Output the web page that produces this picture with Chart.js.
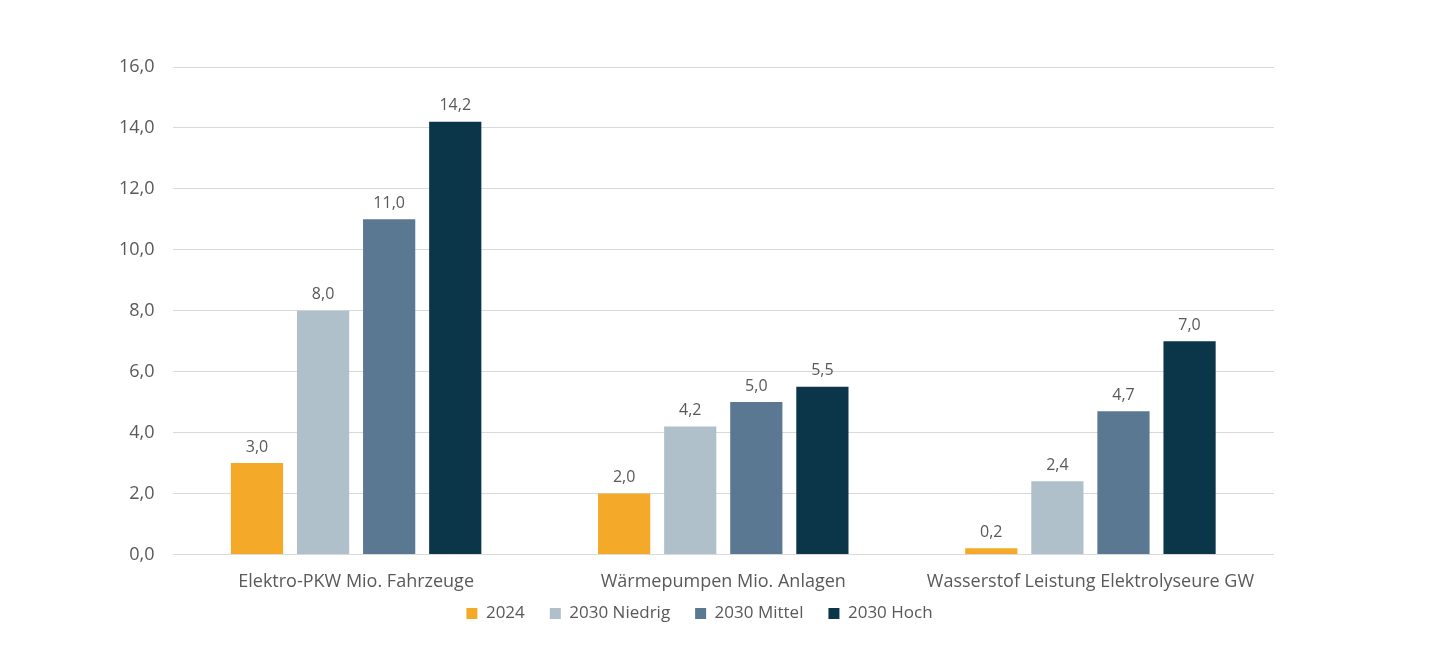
<!DOCTYPE html>
<html>
<head>
<meta charset="utf-8">
<script src="https://cdn.jsdelivr.net/npm/chart.js@4"></script>
<style>
    html, body { margin: 0; padding: 0; background: #fff; }
    #wrap { width: 1440px; height: 661px; }
</style>
</head>
<body>
<div id="wrap"><canvas id="chart"></canvas></div>
<script>
const categories = ['Elektro-PKW Mio. Fahrzeuge', 'Wärmepumpen Mio. Anlagen', 'Wasserstof Leistung Elektrolyseure GW'];
const seriesNames = ['2024', '2030 Niedrig', '2030 Mittel', '2030 Hoch'];
const values2024 = [3.0, 2.0, 0.2];
const valuesNiedrig = [8.0, 4.2, 2.4];
const valuesMittel = [11.0, 5.0, 4.7];
const valuesHoch = [14.2, 5.5, 7.0];
const yTicks = [0, 2, 4, 6, 8, 10, 12, 14, 16];

const colors = ['#F5A928', '#AFC0CA', '#5B7892', '#0B3549'];
const textColor = '#595959';
const fontFamily = '"Open Sans", "Noto Sans", sans-serif';

// legend sits closer to the axis labels than Chart.js would place it
const legendTrim = 23;
const legendShiftY = 22;
const legendShiftX = 12;

function fmt(v) {
    return v.toFixed(1).replace('.', ',');
}

// draws the value above each bar (no datalabels plugin available offline)
// and nudges the legend into place
const valueLabels = {
    id: 'valueLabels',
    afterInit(chart) {
        const legend = chart.legend;
        if (!legend) return;
        const origFit = legend.fit;
        const origDraw = legend.draw;
        legend.fit = function() {
            origFit.apply(this, arguments);
            this.height -= legendTrim;
        };
        legend.draw = function() {
            this.top -= legendShiftY;
            this.left += legendShiftX;
            this.right += legendShiftX;
            origDraw.apply(this, arguments);
            this.top += legendShiftY;
            this.left -= legendShiftX;
            this.right -= legendShiftX;
        };
    },
    afterDatasetsDraw(chart) {
        const ctx = chart.ctx;
        ctx.save();
        ctx.fillStyle = textColor;
        ctx.font = '16px ' + fontFamily;
        ctx.textAlign = 'center';
        ctx.textBaseline = 'bottom';
        chart.data.datasets.forEach((ds, i) => {
            chart.getDatasetMeta(i).data.forEach((bar, j) => {
                ctx.fillText(fmt(ds.data[j]), bar.x, bar.y - 8);
            });
        });
        ctx.restore();
    }
};

document.addEventListener('DOMContentLoaded', function() {
    const ctx = document.getElementById('chart').getContext('2d');
    const allSeries = [values2024, valuesNiedrig, valuesMittel, valuesHoch];
    new Chart(ctx, {
        type: 'bar',
        data: {
            labels: categories,
            datasets: allSeries.map((data, i) => ({
                label: seriesNames[i],
                data: data,
                backgroundColor: colors[i],
                borderWidth: 0
            }))
        },
        options: {
            responsive: true,
            maintainAspectRatio: false,
            animation: false,
            datasets: {
                bar: { categoryPercentage: 0.72, barPercentage: 0.79 }
            },
            layout: {
                padding: { left: 101, right: 166, top: 67, bottom: 30 }
            },
            scales: {
                x: {
                    grid: { display: false },
                    border: { display: false },
                    ticks: {
                        color: textColor,
                        font: { family: fontFamily, size: 18 },
                        padding: 9
                    }
                },
                y: {
                    min: 0,
                    max: 16,
                    afterBuildTicks: axis => {
                        axis.ticks = yTicks.map(v => ({ value: v }));
                    },
                    grid: { color: '#D9D9D9', drawTicks: false, lineWidth: 1 },
                    border: { display: false },
                    ticks: {
                        color: textColor,
                        font: { family: fontFamily, size: 18 },
                        padding: 18,
                        callback: v => fmt(v)
                    }
                }
            },
            plugins: {
                legend: {
                    position: 'bottom',
                    labels: {
                        color: textColor,
                        font: { family: fontFamily, size: 17 },
                        boxWidth: 11,
                        boxHeight: 11,
                        padding: 25
                    }
                },
                tooltip: { enabled: false }
            }
        },
        plugins: [valueLabels]
    });
});
</script>
</body>
</html>
